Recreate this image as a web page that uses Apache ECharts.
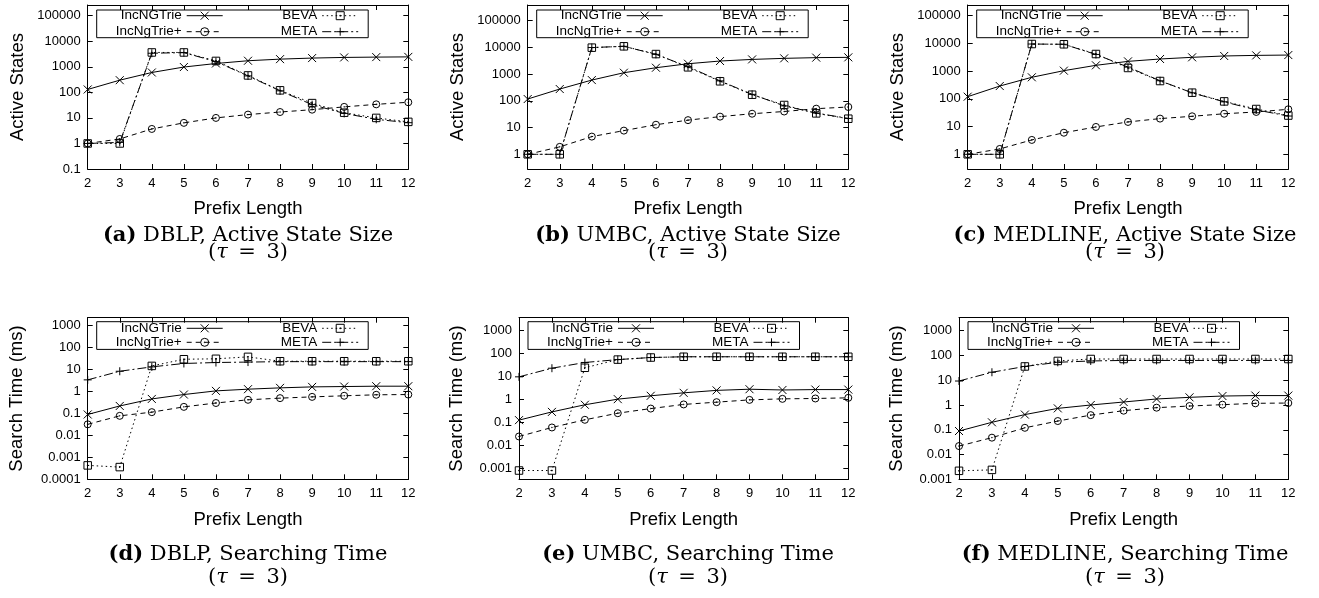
<!DOCTYPE html>
<html>
<head>
<meta charset="utf-8">
<script src="https://cdn.jsdelivr.net/npm/echarts@6/dist/echarts.min.js"></script>
<style>
  html, body { margin: 0; padding: 0; background: #fff; }
  #chart { width: 1319px; height: 598px; }
</style>
</head>
<body>
<div id="chart"></div>
<script>
  // x axis
  const prefixLength = [2, 3, 4, 5, 6, 7, 8, 9, 10, 11, 12]
  const seriesNames = ['IncNGTrie', 'IncNgTrie+', 'BEVA', 'META']

  // tick labels (log axes, one label per decade)
  const activeTickLabels = ['0.1', '1', '10', '100', '1000', '10000', '100000']
  const timeTickLabels = ['0.0001', '0.001', '0.01', '0.1', '1', '10', '100', '1000']

  // active state size (tau = 3)
  const dblpActIncNGTrie = [130, 300, 600, 980, 1350, 1730, 2000, 2200, 2330, 2400, 2450]
  const dblpActIncNgTriePlus = [1, 1.5, 3.7, 6.4, 10, 13.5, 17, 21, 27, 34, 41]
  const dblpActBeva = [1, 1, 3650, 3650, 1700, 460, 120, 38, 16, 10, 7]
  const dblpActMeta = [1, 1.1, 3400, 3600, 1600, 440, 115, 33, 15, 8.8, 6.5]

  const umbcActIncNGTrie = [117, 277, 600, 1130, 1740, 2450, 3100, 3560, 3900, 4150, 4250]
  const umbcActIncNgTriePlus = [1, 1.9, 4.6, 7.7, 12.8, 19, 25.7, 33, 40, 51, 59]
  const umbcActBeva = [1, 1, 9800, 11000, 5650, 1800, 540, 170, 70, 34, 21.5]
  const umbcActMeta = [1, 1, 9900, 11000, 5500, 1900, 560, 175, 65, 35, 22]

  const medlineActIncNGTrie = [120, 290, 600, 1040, 1620, 2250, 2740, 3150, 3520, 3700, 3800]
  const medlineActIncNgTriePlus = [1, 1.56, 3.3, 6, 9.7, 14.7, 19.4, 23.5, 29, 33.7, 42]
  const medlineActBeva = [1, 1, 9500, 9300, 4150, 1300, 440, 167, 81, 43, 25]
  const medlineActMeta = [1, 1, 9500, 9300, 4000, 1400, 450, 165, 78, 40, 24]

  // searching time in ms (tau = 3)
  const dblpTimeIncNGTrie = [0.09, 0.22, 0.46, 0.73, 1.07, 1.28, 1.47, 1.63, 1.69, 1.75, 1.75]
  const dblpTimeIncNgTriePlus = [0.032, 0.078, 0.115, 0.2, 0.3, 0.42, 0.5, 0.57, 0.64, 0.71, 0.73]
  const dblpTimeBeva = [0.00043, 0.00036, 14.7, 29.6, 31, 38, 24, 24, 24, 24, 24]
  const dblpTimeMeta = [3.4, 8.4, 13.3, 19, 21, 22, 23, 23, 23, 23, 23]

  const umbcTimeIncNGTrie = [0.123, 0.28, 0.57, 1.0, 1.4, 1.88, 2.4, 2.7, 2.5, 2.6, 2.6]
  const umbcTimeIncNgTriePlus = [0.024, 0.059, 0.127, 0.246, 0.39, 0.59, 0.74, 0.93, 1.03, 1.07, 1.14]
  const umbcTimeBeva = [0.0008, 0.0008, 23, 52, 64, 69, 69, 69, 69, 69, 69]
  const umbcTimeMeta = [9.3, 22, 39, 52, 64, 69, 69, 69, 69, 69, 69]

  const medlineTimeIncNGTrie = [0.089, 0.2, 0.41, 0.73, 1.0, 1.32, 1.75, 2.04, 2.3, 2.4, 2.4]
  const medlineTimeIncNgTriePlus = [0.022, 0.048, 0.12, 0.225, 0.39, 0.59, 0.78, 0.91, 1.03, 1.17, 1.2]
  const medlineTimeBeva = [0.0022, 0.0024, 36, 60, 72, 72, 72, 72, 72, 72, 72]
  const medlineTimeMeta = [9.3, 21, 36, 53, 60, 63, 63, 63, 63, 63, 63]

  const SANS = 'Liberation Sans, Arial, sans-serif'
  const SERIF = 'DejaVu Serif, serif'

  // gnuplot style point types
  const crossPath = 'path://M0,0L10,10M10,0L0,10'
  const circlePath = 'path://M0,5A5,5,0,1,1,10,5A5,5,0,1,1,0,5ZM4.5,5A0.5,0.5,0,1,1,5.5,5A0.5,0.5,0,1,1,4.5,5Z'
  const squarePath = 'path://M0,0L10,0L10,10L0,10ZM4.5,4.5L5.5,4.5L5.5,5.5L4.5,5.5Z'
  const plusPath = 'path://M5,0L5,10M0,5L10,5'

  const seriesStyles = [
    { symbol: crossPath, size: 8, dash: 'solid' },
    { symbol: circlePath, size: 7, dash: [5, 4] },
    { symbol: squarePath, size: 7.5, dash: [1.5, 3] },
    { symbol: plusPath, size: 8, dash: [9, 3, 2, 3] }
  ]

  const panels = [
    { tag: '(a)', caption: 'DBLP, Active State Size', yName: 'Active States', ticks: activeTickLabels, firstExp: -1,
      yMin: 0.1, yMax: 263000, left: 87.7, top: 5, width: 320.6, height: 164, nameGap: 60,
      data: [dblpActIncNGTrie, dblpActIncNgTriePlus, dblpActBeva, dblpActMeta] },
    { tag: '(b)', caption: 'UMBC, Active State Size', yName: 'Active States', ticks: activeTickLabels, firstExp: -1,
      yMin: 0.282, yMax: 387000, left: 527.7, top: 5, width: 320.6, height: 164, nameGap: 60,
      data: [umbcActIncNGTrie, umbcActIncNgTriePlus, umbcActBeva, umbcActMeta] },
    { tag: '(c)', caption: 'MEDLINE, Active State Size', yName: 'Active States', ticks: activeTickLabels, firstExp: -1,
      yMin: 0.295, yMax: 243000, left: 967.7, top: 5, width: 320.6, height: 164, nameGap: 60,
      data: [medlineActIncNGTrie, medlineActIncNgTriePlus, medlineActBeva, medlineActMeta] },
    { tag: '(d)', caption: 'DBLP, Searching Time', yName: 'Search Time (ms)', ticks: timeTickLabels, firstExp: -4,
      yMin: 0.0001, yMax: 2317, left: 87.7, top: 317.7, width: 320.6, height: 161.6, nameGap: 61,
      data: [dblpTimeIncNGTrie, dblpTimeIncNgTriePlus, dblpTimeBeva, dblpTimeMeta] },
    { tag: '(e)', caption: 'UMBC, Searching Time', yName: 'Search Time (ms)', ticks: timeTickLabels, firstExp: -4,
      yMin: 0.000333, yMax: 3420, left: 519, top: 317.7, width: 329.3, height: 161.6, nameGap: 53,
      data: [umbcTimeIncNGTrie, umbcTimeIncNgTriePlus, umbcTimeBeva, umbcTimeMeta] },
    { tag: '(f)', caption: 'MEDLINE, Searching Time', yName: 'Search Time (ms)', ticks: timeTickLabels, firstExp: -4,
      yMin: 0.001, yMax: 3350, left: 959, top: 317.7, width: 329.3, height: 161.6, nameGap: 53,
      data: [medlineTimeIncNGTrie, medlineTimeIncNgTriePlus, medlineTimeBeva, medlineTimeMeta] }
  ]

  const captionX = [248, 688, 1125]
  const W = 1319

  const axisLine = { show: true, onZero: false, lineStyle: { color: '#000', width: 1 } }
  const axisTick = { show: true, inside: true, length: 5, lineStyle: { color: '#000', width: 1 } }

  const option = {
    animation: false,
    backgroundColor: '#fff',
    grid: [], xAxis: [], yAxis: [], series: [], legend: [], title: [], graphic: []
  }

  panels.forEach(function (p, i) {
    const bottomRow = i >= 3
    option.grid.push({ left: p.left, top: p.top, width: p.width, height: p.height, outerBoundsMode: 'none', containLabel: false })

    const fmt = function (v) {
      const l = Math.log10(v)
      const e = Math.round(l)
      if (Math.abs(l - e) > 1e-6) return ''
      return p.ticks[e - p.firstExp] || ''
    }

    option.xAxis.push({
      gridIndex: i, type: 'value', min: 2, max: 12, interval: 1, position: 'bottom',
      name: 'Prefix Length', nameLocation: 'middle', nameGap: bottomRow ? 31 : 30, nameMoveOverlap: false,
      nameTextStyle: { fontSize: 18.5, color: '#000', fontFamily: SANS },
      axisLine: axisLine, axisTick: axisTick,
      axisLabel: { margin: 8, fontSize: 13, color: '#000', fontFamily: SANS },
      splitLine: { show: false }
    })
    option.xAxis.push({
      gridIndex: i, type: 'value', min: 2, max: 12, interval: 1, position: 'top',
      axisLine: axisLine, axisTick: axisTick, axisLabel: { show: false }, splitLine: { show: false }
    })
    option.yAxis.push({
      gridIndex: i, type: 'log', logBase: 10, min: p.yMin, max: p.yMax, position: 'left',
      name: p.yName, nameLocation: 'middle', nameGap: p.nameGap, nameMoveOverlap: false,
      nameTextStyle: { fontSize: 18.5, color: '#000', fontFamily: SANS },
      axisLine: axisLine, axisTick: axisTick,
      axisLabel: { margin: 7, fontSize: 13, color: '#000', fontFamily: SANS, formatter: fmt },
      splitLine: { show: false }, minorTick: { show: false }
    })
    option.yAxis.push({
      gridIndex: i, type: 'log', logBase: 10, min: p.yMin, max: p.yMax, position: 'right',
      axisLine: axisLine, axisTick: axisTick, axisLabel: { show: false }, splitLine: { show: false }
    })

    p.data.forEach(function (values, j) {
      const st = seriesStyles[j]
      option.series.push({
        type: 'line',
        name: seriesNames[j],
        xAxisIndex: 2 * i,
        yAxisIndex: 2 * i,
        data: prefixLength.map(function (x, k) { return [x, values[k]] }),
        symbol: st.symbol,
        symbolSize: st.size,
        showSymbol: true,
        lineStyle: { color: '#000', width: 1, type: st.dash },
        itemStyle: { color: 'transparent', borderColor: '#000', borderWidth: 1 },
        emphasis: { disabled: true },
        silent: true
      })
    })

    // legend: two columns, text right aligned before the sample
    const rowTop = bottomRow ? p.top + 10.6 - 7 : p.top + 10.7 - 7
    const gap = bottomRow ? 0 : 2
    const legendBase = {
      orient: 'vertical', align: 'right', padding: 0, itemGap: gap,
      itemWidth: 36, itemHeight: 10, selectedMode: false, top: rowTop,
      itemStyle: { borderWidth: 1, borderColor: '#000', color: 'transparent' },
      lineStyle: { width: 1, color: '#000' },
      textStyle: { fontSize: 13.5, fontFamily: SANS, color: '#000', lineHeight: 14 }
    }
    option.legend.push(Object.assign({}, legendBase, { data: seriesNames.slice(0, 2), right: W - (p.left + 135.5) }))
    option.legend.push(Object.assign({}, legendBase, { data: seriesNames.slice(2, 4), right: W - (p.left + 271) }))
    option.graphic.push({
      type: 'rect', z: 100,
      shape: { x: p.left + 9, y: bottomRow ? p.top + 4 : p.top + 5, width: 271.5, height: 27.7 },
      style: { fill: 'none', stroke: '#000', lineWidth: 1 }
    })

    // caption below each plot
    const lh = bottomRow ? 23.4 : 16.7
    const capY = bottomRow ? 554.3 : 235.7
    const capFont = { fontFamily: SERIF, fontSize: 21, color: '#000', lineHeight: lh, fontWeight: 'normal' }
    option.title.push({
      text: '{b|' + p.tag + '} {r|' + p.caption + '}\n{r|(}{i|τ}{r|\u2002=\u20023)}',
      left: captionX[i % 3], top: capY - lh / 2, textAlign: 'center', padding: 0,
      textStyle: {
        fontWeight: 'normal', fontFamily: SERIF, fontSize: 21, lineHeight: lh,
        rich: {
          b: Object.assign({}, capFont, { fontWeight: 'bold' }),
          r: capFont,
          i: Object.assign({}, capFont, { fontStyle: 'italic' })
        }
      }
    })
  })

  const chart = echarts.init(document.getElementById('chart'))
  chart.setOption(option)
</script>
</body>
</html>
